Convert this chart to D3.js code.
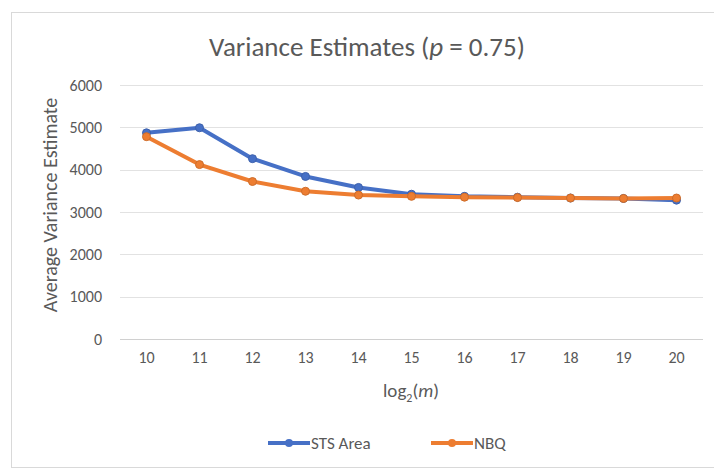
<!DOCTYPE html>
<html>
<head>
<meta charset="utf-8">
<script src="https://cdn.jsdelivr.net/npm/d3@7"></script>
<style>
  body { margin: 0; background: #fff; }
  text { font-family: Calibri, Carlito, Lato, sans-serif; }
</style>
</head>
<body>
<div class="canvas"></div>
<script>
const categories = [10, 11, 12, 13, 14, 15, 16, 17, 18, 19, 20]
const stsArea = [4870, 4990, 4260, 3840, 3580, 3420, 3370, 3350, 3330, 3320, 3280]
const nbq = [4780, 4120, 3720, 3490, 3400, 3370, 3350, 3340, 3330, 3320, 3330]
const yTicks = [0, 1000, 2000, 3000, 4000, 5000, 6000]

const series = [
  { name: 'STS Area', values: stsArea, color: '#4670c6' },
  { name: 'NBQ', values: nbq, color: '#ed7d31' }
]

const svgWidth = 714, svgHeight = 470
const margin = { top: 85, right: 11, bottom: 131, left: 120 }
const graphWidth = svgWidth - margin.left - margin.right
const graphHeight = svgHeight - margin.top - margin.bottom

const svg = d3.select('.canvas')
  .append('svg')
  .attr('width', svgWidth)
  .attr('height', svgHeight)

// chart frame
svg.append('rect')
  .attr('x', 11.5).attr('y', 12.5)
  .attr('width', svgWidth).attr('height', 455)
  .attr('fill', '#fff')
  .attr('stroke', '#d9d9d9')

const graph = svg.append('g')
  .attr('transform', `translate(${margin.left}, ${margin.top})`)

// scales
const x = d3.scaleBand().domain(categories).range([0, graphWidth])
const y = d3.scaleLinear().domain([0, 6000]).range([graphHeight, 0])
const cx = d => x(d) + x.bandwidth() / 2

// gridlines
graph.append('g')
  .selectAll('line')
  .data(yTicks)
  .enter().append('line')
  .attr('x1', 0).attr('x2', graphWidth)
  .attr('y1', d => Math.round(y(d)) + 0.5)
  .attr('y2', d => Math.round(y(d)) + 0.5)
  .attr('stroke', d => d === 0 ? '#d0d0d0' : '#e2e2e2')
  .attr('stroke-width', 1)

// axes
const yAxis = d3.axisLeft(y).tickValues(yTicks).tickSize(0).tickPadding(18).tickFormat(d3.format('d'))
const yAxisGroup = graph.append('g').call(yAxis)
yAxisGroup.select('.domain').remove()
yAxisGroup.selectAll('text')
  .attr('fill', '#595959')
  .style('font-size', '16px')

const xAxis = d3.axisBottom(x).tickSize(0).tickPadding(13)
const xAxisGroup = graph.append('g')
  .attr('transform', `translate(0, ${graphHeight})`)
  .call(xAxis)
xAxisGroup.select('.domain').remove()
xAxisGroup.selectAll('text')
  .attr('fill', '#595959')
  .style('font-size', '16px')

// line generator
const line = d3.line()
  .x((d, i) => cx(categories[i]))
  .y(d => y(d))

series.forEach(s => {
  graph.append('path')
    .datum(s.values)
    .attr('fill', 'none')
    .attr('stroke', s.color)
    .attr('stroke-width', 4)
    .attr('stroke-linejoin', 'round')
    .attr('d', line)

  graph.append('g')
    .selectAll('circle')
    .data(s.values)
    .enter().append('circle')
    .attr('cx', (d, i) => cx(categories[i]))
    .attr('cy', d => y(d))
    .attr('r', 4)
    .attr('fill', s.color)
    .attr('stroke', d3.color(s.color).darker(0.4))
    .attr('stroke-width', 1)
})

// title
const title = svg.append('text')
  .attr('x', 367).attr('y', 56)
  .attr('text-anchor', 'middle')
  .attr('fill', '#595959')
  .style('font-size', '27px')
title.append('tspan').text('Variance Estimates (')
title.append('tspan').style('font-style', 'italic').text('p')
title.append('tspan').text(' = 0.75)')

// axis titles
svg.append('text')
  .attr('transform', `translate(57, ${margin.top + graphHeight / 2 - 7}) rotate(-90)`)
  .attr('text-anchor', 'middle')
  .attr('fill', '#595959')
  .style('font-size', '20px')
  .text('Average Variance Estimate')

const xTitle = svg.append('text')
  .attr('x', 411).attr('y', 397)
  .attr('text-anchor', 'middle')
  .attr('fill', '#595959')
  .style('font-size', '19px')
xTitle.append('tspan').text('log')
xTitle.append('tspan').attr('dy', 5).style('font-size', '12px').text('2')
xTitle.append('tspan').attr('dy', -5).text('(')
xTitle.append('tspan').style('font-style', 'italic').text('m')
xTitle.append('tspan').text(')')

// legend
const legendX = [268, 431]
const legend = svg.append('g')
series.forEach((s, i) => {
  const g = legend.append('g').attr('transform', `translate(${legendX[i]}, 443)`)
  g.append('line')
    .attr('x1', 0).attr('x2', 42)
    .attr('stroke', s.color).attr('stroke-width', 4)
  g.append('circle')
    .attr('cx', 21).attr('r', 4)
    .attr('fill', s.color)
  g.append('text')
    .attr('x', 43).attr('y', 6)
    .attr('fill', '#595959')
    .style('font-size', '17px')
    .text(s.name)
})
</script>
</body>
</html>
